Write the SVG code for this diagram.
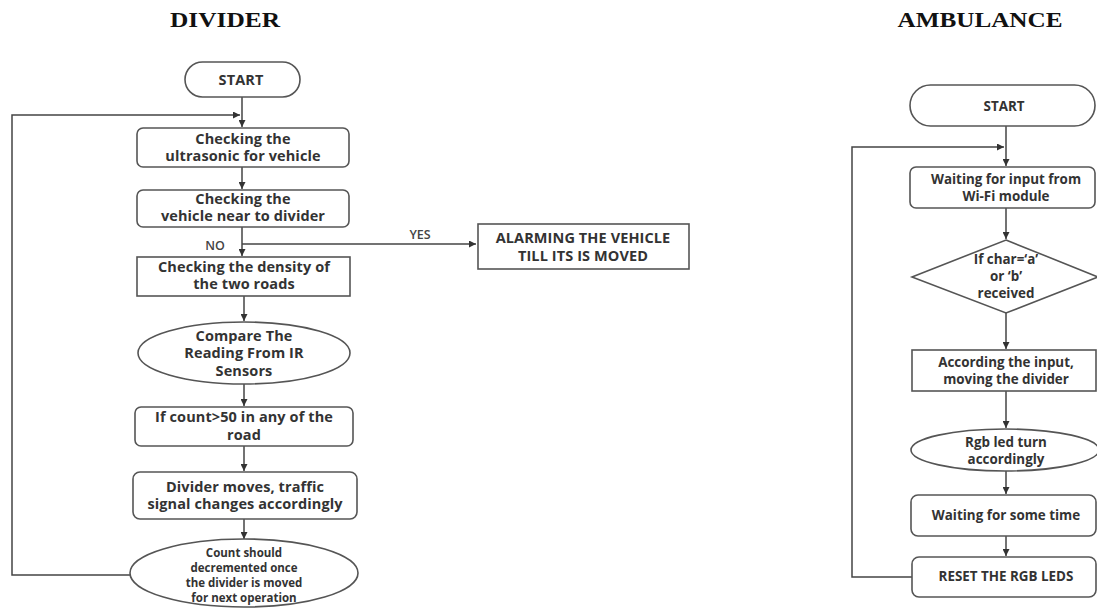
<svg xmlns="http://www.w3.org/2000/svg" width="1097" height="608" viewBox="0 0 1097 608">
<style>
.t{font-family:"Liberation Serif","Times New Roman",serif;font-weight:bold;font-size:20px;fill:#111;text-anchor:middle}
.b{font-family:"Open Sans",Lato,sans-serif;font-weight:bold;font-size:14.5px;letter-spacing:0.1px;fill:#333;text-anchor:middle}
.r{font-family:"Open Sans",Lato,sans-serif;font-weight:bold;font-size:13.4px;fill:#333;text-anchor:middle}
.s{font-family:"Open Sans",Lato,sans-serif;font-weight:bold;font-size:11.5px;fill:#333;text-anchor:middle}
.l{font-family:"Open Sans",Lato,sans-serif;font-weight:600;font-size:12.5px;fill:#444;text-anchor:middle}
.n{fill:#fff;stroke:#555;stroke-width:1.6}
.c{fill:none;stroke:#444;stroke-width:1.5}
</style>
<defs>
<marker id="a" viewBox="0 0 10 10" refX="10" refY="5" markerWidth="7" markerHeight="7" markerUnits="userSpaceOnUse" orient="auto">
<path d="M0,0L10,5L0,10z" fill="#333"/>
</marker>
</defs>
<rect width="1097" height="608" fill="#fff"/>
<text class="t" x="225" y="27" textLength="110" lengthAdjust="spacingAndGlyphs">DIVIDER</text>
<text class="t" x="980" y="27" textLength="165" lengthAdjust="spacingAndGlyphs">AMBULANCE</text>

<g id="connectors">
<path class="c" d="M242,97V127" marker-end="url(#a)"/>
<path class="c" d="M130,575H12V115H240" marker-end="url(#a)"/>
<path class="c" d="M242,167V189" marker-end="url(#a)"/>
<path class="c" d="M242,227V256" marker-end="url(#a)"/>
<path class="c" d="M242,244H476" marker-end="url(#a)"/>
<path class="c" d="M244,296V321" marker-end="url(#a)"/>
<path class="c" d="M244,384V406" marker-end="url(#a)"/>
<path class="c" d="M244,446V471" marker-end="url(#a)"/>
<path class="c" d="M244,519V539" marker-end="url(#a)"/>
<text class="l" x="215" y="250">NO</text>
<text class="l" x="420" y="239">YES</text>

<path class="c" d="M1006,126V166" marker-end="url(#a)"/>
<path class="c" d="M912,577H852V147H1004" marker-end="url(#a)"/>
<path class="c" d="M1006,208V239" marker-end="url(#a)"/>
<path class="c" d="M1006,313V349" marker-end="url(#a)"/>
<path class="c" d="M1006,391V428" marker-end="url(#a)"/>
<path class="c" d="M1006,471V494" marker-end="url(#a)"/>
<path class="c" d="M1006,536V556" marker-end="url(#a)"/>
</g>

<g id="d-start"><rect class="n" x="185" y="62" width="115" height="35" rx="17.5"/><text class="b" x="241" y="85" font-size="14">START</text></g>
<g id="d-ultra"><rect class="n" x="137" y="128" width="212" height="39" rx="6"/><text class="b" x="243" y="144">Checking the</text><text class="b" x="243" y="161">ultrasonic for vehicle</text></g>
<g id="d-near"><rect class="n" x="137" y="190" width="212" height="37" rx="6"/><text class="b" x="243" y="204">Checking the</text><text class="b" x="243" y="221">vehicle near to divider</text></g>
<g id="d-alarm"><rect class="n" x="478" y="224" width="211" height="45"/><text class="b" x="583" y="243" font-size="15">ALARMING THE VEHICLE</text><text class="b" x="583" y="261" font-size="15">TILL ITS IS MOVED</text></g>
<g id="d-density"><rect class="n" x="137" y="257" width="213" height="39"/><text class="b" x="244" y="272">Checking the density of</text><text class="b" x="244" y="289">the two roads</text></g>
<g id="d-compare"><ellipse class="n" cx="244" cy="353" rx="106" ry="31"/><text class="b" x="244" y="341">Compare The</text><text class="b" x="244" y="358">Reading From IR</text><text class="b" x="244" y="376">Sensors</text></g>
<g id="d-count"><rect class="n" x="135" y="407" width="218" height="39" rx="6"/><text class="b" x="244" y="422">If count&gt;50 in any of the</text><text class="b" x="244" y="440">road</text></g>
<g id="d-moves"><rect class="n" x="133" y="472" width="224" height="47" rx="7"/><text class="b" x="245" y="492">Divider moves, traffic</text><text class="b" x="245" y="509">signal changes accordingly</text></g>
<g id="d-decrement"><ellipse class="n" cx="244" cy="573" rx="114" ry="34"/><text class="s" x="244" y="557">Count should</text><text class="s" x="244" y="572">decremented once</text><text class="s" x="244" y="587">the divider is moved</text><text class="s" x="244" y="602">for next operation</text></g>

<g id="a-start"><rect class="n" x="910" y="85" width="185" height="41" rx="20.5"/><text class="r" x="1004" y="111" font-size="12.5">START</text></g>
<g id="a-wait"><rect class="n" x="910" y="167" width="185" height="41" rx="6"/><text class="r" x="1006" y="184">Waiting for input from</text><text class="r" x="1006" y="201">Wi-Fi module</text></g>
<g id="a-char"><path class="n" d="M1006,240L1098,277L1006,313L912,277z"/><text class="r" x="1006" y="264">If char=‘a’</text><text class="r" x="1006" y="281">or ‘b’</text><text class="r" x="1006" y="298">received</text></g>
<g id="a-move"><rect class="n" x="912" y="350" width="184" height="41"/><text class="r" x="1006" y="367">According the input,</text><text class="r" x="1006" y="384">moving the divider</text></g>
<g id="a-rgb"><ellipse class="n" cx="1005" cy="450" rx="94" ry="21"/><text class="r" x="1006" y="447">Rgb led turn</text><text class="r" x="1006" y="464">accordingly</text></g>
<g id="a-time"><rect class="n" x="911" y="495" width="185" height="41" rx="7"/><text class="r" x="1006" y="520">Waiting for some time</text></g>
<g id="a-reset"><rect class="n" x="912" y="557" width="184" height="40" rx="7"/><text class="r" x="1006" y="581" font-size="12.8">RESET THE RGB LEDS</text></g>
</svg>
